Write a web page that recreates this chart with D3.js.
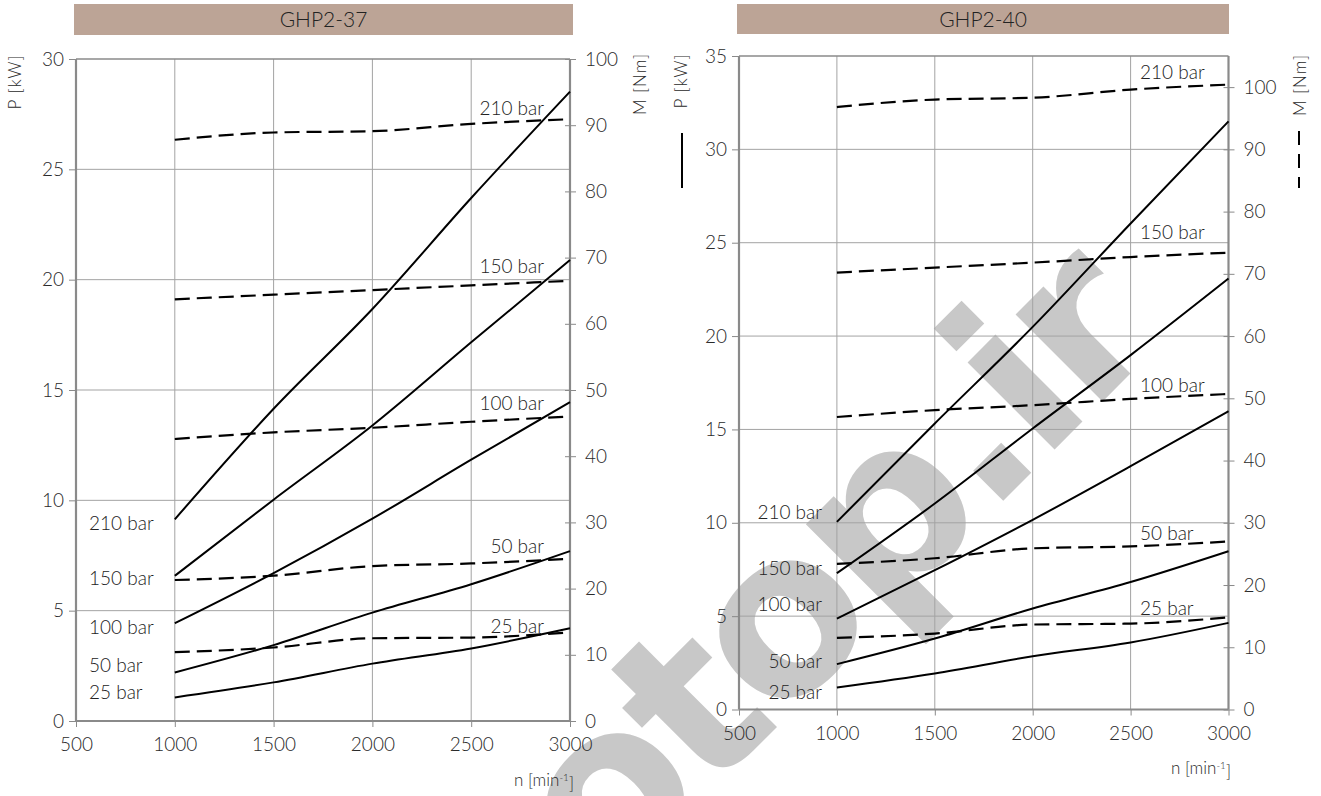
<!DOCTYPE html>
<html><head><meta charset="utf-8">
<script src="https://cdn.jsdelivr.net/npm/d3@7"></script>
<style>
body{margin:0;background:#fff}
svg{display:block}
text{font-family:Lato,'Open Sans',sans-serif;font-weight:300}
</style></head>
<body><svg id="c" width="1321" height="796"></svg>
<script>
// ---------------- data ----------------
const rpm = [1000, 1500, 2000, 2500, 3000];
const xTicks = [500, 1000, 1500, 2000, 2500, 3000];
const pressureLabels = ["210 bar", "150 bar", "100 bar", "50 bar", "25 bar"];
const titles = ["GHP2-37", "GHP2-40"];

// GHP2-37 : power P [kW] (solid) and torque M [Nm] (dashed)
const ghp37Power = [
  [9.14, 14.15, 18.67, 23.7, 28.52],
  [6.58, 10.03, 13.39, 17.16, 20.89],
  [4.43, 6.7, 9.17, 11.84, 14.45],
  [2.2, 3.44, 4.91, 6.2, 7.7],
  [1.07, 1.75, 2.6, 3.29, 4.2]
];
const ghp37Torque = [
  [87.8, 88.9, 89.1, 90.2, 90.9],
  [63.7, 64.4, 65.1, 65.8, 66.5],
  [42.6, 43.6, 44.3, 45.2, 46.0],
  [21.3, 21.95, 23.4, 23.8, 24.5],
  [10.4, 11.1, 12.5, 12.6, 13.4]
];
const ghp37PTicks = [0, 5, 10, 15, 20, 25, 30];
const ghp37MTicks = [0, 10, 20, 30, 40, 50, 60, 70, 80, 90, 100];

// GHP2-40
const ghp40Power = [
  [10.05, 15.32, 20.49, 26.03, 31.5],
  [7.3, 11.03, 15.05, 18.98, 23.08],
  [4.87, 7.46, 10.16, 13.03, 15.98],
  [2.43, 3.8, 5.41, 6.83, 8.48],
  [1.18, 1.93, 2.85, 3.59, 4.64]
];
const ghp40Torque = [
  [96.8, 98.0, 98.3, 99.6, 100.4],
  [70.2, 71.0, 71.8, 72.7, 73.4],
  [47.0, 48.1, 48.9, 49.9, 50.7],
  [23.4, 24.3, 25.9, 26.2, 27.0],
  [11.5, 12.2, 13.65, 13.8, 14.8]
];
const ghp40PTicks = [0, 5, 10, 15, 20, 25, 30, 35];
const ghp40MTicks = [0, 10, 20, 30, 40, 50, 60, 70, 80, 90, 100];

// ---------------- layout ----------------
const svg = d3.select("#c");

// watermark (behind everything)
svg.append("text")
  .attr("transform", "translate(604,900) rotate(-45)")
  .attr("font-size", 225)
  .attr("letter-spacing", -9)
  .attr("fill", "#c8c8c8")
  .style("font-family", "DejaVu Sans").style("font-weight", "bold")
  .text("otop.ir");

const panels = [
  {
    title: titles[0], box: [74, 4, 499, 31],
    left: 76, right: 570, top: 59, bottom: 721,
    pMax: 30, mMax: 100, pTicks: ghp37PTicks, mTicks: ghp37MTicks,
    power: ghp37Power, torque: ghp37Torque,
    leftLab: { anchor: "start", x: 89, dy: [4, 3, 4, -7, -5] },
    rightLab: { anchor: "end", x: 544, dy: [-11, -14, -13, -12, -6] },
    pLabel: [15, 82], mLabel: [640, 84], nLabel: [574, 780], legend: false
  },
  {
    title: titles[1], box: [737, 4, 492, 30],
    left: 739, right: 1228.5, top: 56, bottom: 709.5,
    pMax: 35, mMax: 105, pTicks: ghp40PTicks, mTicks: ghp40MTicks,
    power: ghp40Power, torque: ghp40Torque,
    leftLab: { anchor: "end", x: 822, dy: [-10, -5, -14, -3, 5] },
    rightLab: { anchor: "start", x: 1140, dy: [-12, -20, -9, -8, -9] },
    pLabel: [681, 81], mLabel: [1300, 85], nLabel: [1231, 768], legend: true
  }
];

const gridCol = "#a3a3a3", frameCol = "#8a8a8a", txtCol = "#2a2a2a";

panels.forEach(cfg => {
  const g = svg.append("g");
  const x = d3.scaleLinear().domain([500, 3000]).range([cfg.left, cfg.right]);
  const yP = d3.scaleLinear().domain([0, cfg.pMax]).range([cfg.bottom, cfg.top]);
  const yM = d3.scaleLinear().domain([0, cfg.mMax]).range([cfg.bottom, cfg.top]);

  // title box
  g.append("rect").attr("x", cfg.box[0]).attr("y", cfg.box[1])
    .attr("width", cfg.box[2]).attr("height", cfg.box[3]).attr("fill", "#bca496");
  g.append("text").attr("x", cfg.box[0] + cfg.box[2] / 2).attr("y", cfg.box[1] + cfg.box[3] / 2)
    .attr("dy", "0.36em").attr("text-anchor", "middle").attr("font-size", 21)
    .attr("fill", "#222").text(cfg.title);

  // grid
  g.selectAll(".vg").data(xTicks.filter(t => t > 500 && t < 3000)).enter().append("line")
    .attr("x1", d => x(d)).attr("x2", d => x(d)).attr("y1", cfg.top).attr("y2", cfg.bottom)
    .attr("stroke", gridCol).attr("stroke-width", 1);
  g.selectAll(".hg").data(cfg.pTicks.filter(t => t > 0 && t < cfg.pMax)).enter().append("line")
    .attr("x1", cfg.left).attr("x2", cfg.right).attr("y1", d => yP(d)).attr("y2", d => yP(d))
    .attr("stroke", gridCol).attr("stroke-width", 1);

  // frame
  g.append("line").attr("x1", cfg.left).attr("x2", cfg.right).attr("y1", cfg.top).attr("y2", cfg.top)
    .attr("stroke", frameCol).attr("stroke-width", 1.5);
  [[cfg.left, cfg.top, cfg.left, cfg.bottom], [cfg.right, cfg.top, cfg.right, cfg.bottom],
   [cfg.left, cfg.bottom, cfg.right, cfg.bottom]].forEach(l => {
    g.append("line").attr("x1", l[0]).attr("y1", l[1]).attr("x2", l[2]).attr("y2", l[3])
      .attr("stroke", frameCol).attr("stroke-width", 2.2);
  });

  // axes
  const styleAxis = sel => {
    sel.select(".domain").remove();
    sel.selectAll(".tick line").attr("stroke", frameCol).attr("stroke-width", 1);
    sel.selectAll(".tick text").attr("fill", txtCol).attr("font-size", 19)
      .style("font-family", "Lato,'Open Sans',sans-serif").style("font-weight", 300);
  };
  g.append("g").attr("transform", `translate(${cfg.left},0)`)
    .call(d3.axisLeft(yP).tickValues(cfg.pTicks).tickSize(7).tickPadding(5).tickFormat(d3.format("d")))
    .call(styleAxis);
  g.append("g").attr("transform", `translate(0,${cfg.bottom})`)
    .call(d3.axisBottom(x).tickValues(xTicks).tickSize(6).tickPadding(11).tickFormat(d3.format("d")))
    .call(styleAxis);
  const ra = g.append("g").attr("transform", `translate(${cfg.right},0)`)
    .call(d3.axisRight(yM).tickValues(cfg.mTicks).tickSize(6).tickPadding(9).tickFormat(d3.format("d")))
    .call(styleAxis);
  ra.selectAll(".tick line").attr("x1", -5);

  // curves
  const lineP = d3.line().x((d, i) => x(rpm[i])).y(d => yP(d)).curve(d3.curveMonotoneX);
  const lineM = d3.line().x((d, i) => x(rpm[i])).y(d => yM(d)).curve(d3.curveMonotoneX);
  g.selectAll(".pl").data(cfg.power).enter().append("path")
    .attr("d", lineP).attr("fill", "none").attr("stroke", "#000").attr("stroke-width", 2);
  g.selectAll(".ml").data(cfg.torque).enter().append("path")
    .attr("d", lineM).attr("fill", "none").attr("stroke", "#000").attr("stroke-width", 2.2)
    .attr("stroke-dasharray", "15,7");

  // curve labels
  pressureLabels.forEach((lab, i) => {
    g.append("text").attr("x", cfg.leftLab.x).attr("y", yP(cfg.power[i][0]) + cfg.leftLab.dy[i])
      .attr("dy", "0.35em").attr("text-anchor", cfg.leftLab.anchor)
      .attr("font-size", 19).attr("fill", "#222").text(lab);
    g.append("text").attr("x", cfg.rightLab.x).attr("y", yM(cfg.torque[i][4]) + cfg.rightLab.dy[i])
      .attr("dy", "0.35em").attr("text-anchor", cfg.rightLab.anchor)
      .attr("font-size", 19).attr("fill", "#222").text(lab);
  });

  // axis titles
  g.append("text").attr("transform", `translate(${cfg.pLabel[0]},${cfg.pLabel[1]}) rotate(-90)`)
    .attr("dy", "0.35em").attr("text-anchor", "middle").attr("font-size", 17)
    .attr("letter-spacing", 1).attr("fill", txtCol).text("P [kW]");
  g.append("text").attr("transform", `translate(${cfg.mLabel[0]},${cfg.mLabel[1]}) rotate(-90)`)
    .attr("dy", "0.35em").attr("text-anchor", "middle").attr("font-size", 17)
    .attr("letter-spacing", 1).attr("fill", txtCol).text("M [Nm]");
  const nt = g.append("text").attr("x", cfg.nLabel[0]).attr("y", cfg.nLabel[1]).attr("dy", "0.35em")
    .attr("text-anchor", "end").attr("font-size", 17).attr("fill", txtCol);
  nt.append("tspan").text("n [min");
  nt.append("tspan").attr("dy", "-0.5em").attr("font-size", 10).text("-1");
  nt.append("tspan").attr("dy", "0.5em").text("]");

  if (cfg.legend) {
    g.append("line").attr("x1", cfg.pLabel[0] + 1).attr("x2", cfg.pLabel[0] + 1)
      .attr("y1", 133).attr("y2", 188).attr("stroke", "#000").attr("stroke-width", 2);
    g.append("line").attr("x1", cfg.mLabel[0] - 1).attr("x2", cfg.mLabel[0] - 1)
      .attr("y1", 131).attr("y2", 188).attr("stroke", "#000").attr("stroke-width", 2)
      .attr("stroke-dasharray", "14,9");
  }
});
</script></body></html>
